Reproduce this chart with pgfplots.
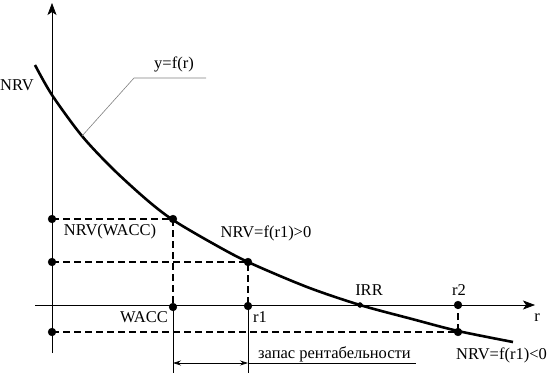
\documentclass[border=0pt]{standalone}
\usepackage{fontspec}
\setmainfont{Liberation Serif}
\usepackage{pgfplots}
\pgfplotsset{compat=1.18}
\usetikzlibrary{arrows.meta}
\begin{document}
\begin{tikzpicture}[font=\fontsize{16.5}{19}\selectfont]
\begin{axis}[scale only axis, width=548pt, height=373pt,
  xmin=-52, xmax=496, ymin=-68, ymax=305, hide axis, clip=false]
% axes
\addplot[black, line width=0.7pt, -{Stealth[length=12pt,width=9pt,inset=3pt]}] coordinates {(-17,0) (483,0)};
\addplot[black, line width=0.7pt, -{Stealth[length=12pt,width=9pt,inset=3pt]}] coordinates {(0,-48) (0,302)};
% thin verticals to margin arrow
\addplot[black, line width=0.6pt] coordinates {(121,-2) (121,-68)};
\addplot[black, line width=0.6pt] coordinates {(196,-1) (196,-68)};
% dashed guides
\addplot[black, line width=1.3pt, dash pattern=on 7pt off 4pt] coordinates {(0,86) (121,86) (121,-2)};
\addplot[black, line width=1.3pt, dash pattern=on 7pt off 4pt] coordinates {(0,43) (196,43) (196,-1)};
\addplot[black, line width=1.3pt, dash pattern=on 7pt off 4pt] coordinates {(0,-27) (406,-27) (406,0)};
% curve y=f(r)
\addplot[black, line width=2.6pt, smooth] coordinates {
 (-17,240) (0,210) (30,169) (61,136) (95,105) (121,85) (160,62) (196,43)
 (255,18) (308,0) (360,-14) (406,-26) (461,-37)};
% leader line
\addplot[gray, line width=0.6pt] coordinates {(30,169) (82,227) (154,227)};
% double arrow and underline
\addplot[black, line width=0.7pt, {Stealth[length=8pt,width=5pt]}-{Stealth[length=8pt,width=5pt]}] coordinates {(121,-58) (196,-58)};
\addplot[black, line width=0.6pt] coordinates {(196,-58) (364,-58)};
% dots
\addplot[only marks, mark=*, mark size=3.9pt, black] coordinates {
 (0,86) (0,43) (0,-27) (121,86) (196,43) (121,-2) (196,-1) (406,0) (406,-27)};
\addplot[only marks, mark=*, mark size=2.5pt, black] coordinates {(308,0)};
% labels
\node at (axis cs:-35,220) {NRV};
\node at (axis cs:122,241) {y=f(r)};
\node at (axis cs:58,73) {NRV(WACC)};
\node at (axis cs:214,72) {NRV=f(r1)>0};
\node at (axis cs:92,-12) {WACC};
\node at (axis cs:208,-12) {r1};
\node at (axis cs:317,15) {IRR};
\node at (axis cs:407,15) {r2};
\node at (axis cs:485,-13) {r};
\node[anchor=west, inner sep=0pt] at (axis cs:404,-50) {NRV=f(r1)<0};
\node[anchor=base west, inner sep=0pt] at (axis cs:206,-53) {запас рентабельности};
\end{axis}
\pgfresetboundingbox
\path (0,0) rectangle (548pt,373pt);
\end{tikzpicture}
\end{document}
